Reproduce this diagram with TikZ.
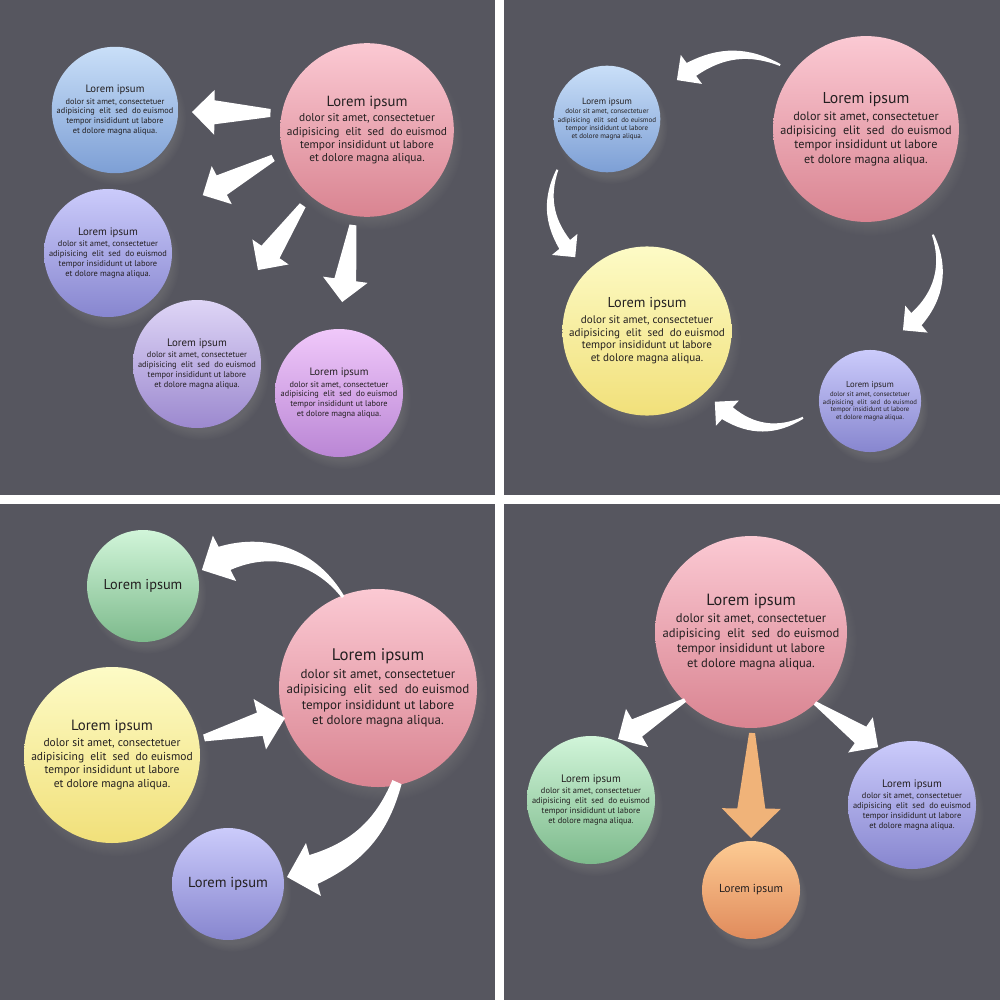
\documentclass[tikz,border=0pt]{standalone}
\usepackage{fontspec}
\setmainfont{PT Sans}
\usetikzlibrary{calc,shadows}

\definecolor{panel}{HTML}{56565F}
\definecolor{ink}{HTML}{231F20}
\definecolor{pinkT}{HTML}{FBC9D3}\definecolor{pinkB}{HTML}{D98491}
\definecolor{blueT}{HTML}{C9DFF8}\definecolor{blueB}{HTML}{7D9FD5}
\definecolor{violT}{HTML}{CBCBFB}\definecolor{violB}{HTML}{8786CF}
\definecolor{lilacT}{HTML}{DED5F6}\definecolor{lilacB}{HTML}{9C89CF}
\definecolor{mauveT}{HTML}{F0C8FA}\definecolor{mauveB}{HTML}{BA86D5}
\definecolor{yellT}{HTML}{FDFBC6}\definecolor{yellB}{HTML}{F1E07A}
\definecolor{greenT}{HTML}{D1F5D9}\definecolor{greenB}{HTML}{7DBA8C}
\definecolor{orT}{HTML}{FDCB93}\definecolor{orB}{HTML}{E08B5C}
\definecolor{arrowor}{HTML}{F0B379}

\newcommand{\loremlong}{{\fontsize{\tsz}{\tsz}\selectfont Lorem ipsum}\\[0.2em]
dolor sit amet, consectetuer\\adipisicing~~elit~~sed~~do euismod\\
tempor insididunt ut labore\\et dolore magna aliqua.}

% [bend]{tail}{tip}{tail width}{shaft width}{head width}{colour}
\newcommand{\flowarrow}[7][0]{%
\fill[#7] let \p1=(#2), \p2=(#3),
  \n1={atan2(\y2-\y1,\x2-\x1)}, \n2={\n1+#1}, \n3={\n1-#1},
  \p3=($(\p2)+(\n3+180:#6/2)$) in
  ($(\p1)+(\n2+90:#4/2)$) to[bend left=#1] ($(\p3)+(\n3+90:#5/2)$)
  -- ($(\p3)+(\n3+90:#6/2)$) -- (\p2) -- ($(\p3)+(\n3-90:#6/2)$)
  -- ($(\p3)+(\n3-90:#5/2)$) to[bend right=#1] ($(\p1)+(\n2-90:#4/2)$) -- cycle;}

\begin{document}
\begin{tikzpicture}[x=1pt,y=1pt,
  ball/.style={circle,inner sep=0pt,align=center,text=ink,
    circular drop shadow={shadow xshift=4pt,shadow yshift=-8pt,shadow scale=1.06,opacity=0.35}},
  pinkball/.style={ball,top color=pinkT,middle color=pinkT!75!pinkB,bottom color=pinkB},
  blueball/.style={ball,top color=blueT,middle color=blueT!75!blueB,bottom color=blueB},
  violball/.style={ball,top color=violT,middle color=violT!75!violB,bottom color=violB},
  lilacball/.style={ball,top color=lilacT,middle color=lilacT!75!lilacB,bottom color=lilacB},
  mauveball/.style={ball,top color=mauveT,middle color=mauveT!75!mauveB,bottom color=mauveB},
  yellball/.style={ball,top color=yellT,middle color=yellT!75!yellB,bottom color=yellB},
  greenball/.style={ball,top color=greenT,middle color=greenT!75!greenB,bottom color=greenB},
  orball/.style={ball,top color=orT,middle color=orT!75!orB,bottom color=orB},
  body/.code={\pgfmathsetmacro\bsz{#1}\pgfmathsetmacro\bsk{1.17*#1}%
    \pgfmathsetmacro\tsz{1.29*#1}\tikzset{font=\fontsize{\bsz}{\bsk}\selectfont}},
  head/.style={font=\fontsize{#1}{#1}\selectfont}]
\useasboundingbox (0,0) rectangle (1000,-1000);
\fill[white] (0,0) rectangle (1000,-1000);
\fill[panel] (0,0) rectangle (495,-495);
\fill[panel] (504,0) rectangle (1000,-495);
\fill[panel] (0,-504) rectangle (495,-1000);
\fill[panel] (504,-504) rectangle (1000,-1000);

\node[pinkball,minimum size=164pt,body=11.4] (hubA) at (367,-130) {\loremlong};
\node[blueball,minimum size=126pt,body=8.3] (blueA) at (115,-110) {\loremlong};
\node[violball,minimum size=128pt,body=8.4] (violetA) at (108,-253) {\loremlong};
\node[lilacball,minimum size=128pt,body=8.4] (lilacA) at (197,-364) {\loremlong};
\node[mauveball,minimum size=128pt,body=8.3] (mauveA) at (339,-393) {\loremlong};
\flowarrow{$(hubA)+(170:98)$}{$(blueA)+(-1.5:77)$}{8}{24}{45}{white}
\flowarrow{$(hubA)+(196.6:98)$}{$(violetA)+(31.4:111)$}{7}{22}{43}{white}
\flowarrow{$(hubA)+(229.5:99)$}{$(lilacA)+(57:112)$}{7}{22}{44}{white}
\flowarrow{$(hubA)+(261.6:96)$}{$(mauveA)+(88:91)$}{7}{22}{45}{white}

\node[pinkball,minimum size=178pt,body=12.2] (hubB) at (866,-129) {\loremlong};
\node[blueball,minimum size=104pt,body=7] (blueB) at (607,-119) {\loremlong};
\node[yellball,minimum size=168pt,body=11.1] (yellowB) at (647,-331) {\loremlong};
\node[violball,minimum size=102pt,body=6.7] (violetB) at (870,-401) {\loremlong};
\flowarrow[-28]{$(hubB)+(143.3:107)$}{$(blueB)+(29.1:80)$}{2}{16}{36}{white}
\flowarrow[-28]{$(blueB)+(225.6:71)$}{$(yellowB)+(134.2:103)$}{2}{14}{33}{white}
\flowarrow[33]{$(hubB)+(302.3:125)$}{$(violetB)+(65:78)$}{2}{16}{35}{white}
\flowarrow[32]{$(violetB)+(194:69)$}{$(yellowB)+(313.8:98)$}{2}{16}{34}{white}

\node[pinkball,minimum size=188pt,body=13] (hubC) at (378,-688) {\loremlong};
\node[greenball,minimum size=112pt,head=14.3] (greenC) at (143,-586) {Lorem ipsum};
\node[yellball,minimum size=176pt,body=11.5] (yellowC) at (112,-755) {\loremlong};
\node[violball,minimum size=112pt,head=14.5] (violetC) at (228,-884) {Lorem ipsum};
\flowarrow[-38]{$(hubC)+(111:97.5)$}{$(greenC)+(15.2:61)$}{3}{26}{51}{white}
\flowarrow{$(yellowC)+(10.5:93.6)$}{$(hubC)+(197.9:97.7)$}{7}{24}{52}{white}
\flowarrow[25]{$(hubC)+(281.4:96)$}{$(violetC)+(6.8:59.4)$}{10}{30}{55}{white}

\node[pinkball,minimum size=184pt,body=12.6] (hubD) at (751,-632) {\loremlong};
\node[greenball,minimum size=128pt,body=8.4] (greenD) at (591,-800) {\loremlong};
\node[orball,minimum size=98pt,head=11.6] (orangeD) at (751,-890) {Lorem ipsum};
\node[violball,minimum size=128pt,body=8.4] (violetD) at (912,-805) {\loremlong};
\flowarrow{$(hubD)+(225.9:94.8)$}{$(greenD)+(66.1:66.7)$}{4}{20}{44}{white}
\flowarrow{$(hubD)+(270.6:101)$}{$(orangeD)+(90:52)$}{6}{28}{59}{arrowor}
\flowarrow{$(hubD)+(312:95.6)$}{$(violetD)+(120.4:67)$}{4}{20}{43}{white}
\end{tikzpicture}
\end{document}
